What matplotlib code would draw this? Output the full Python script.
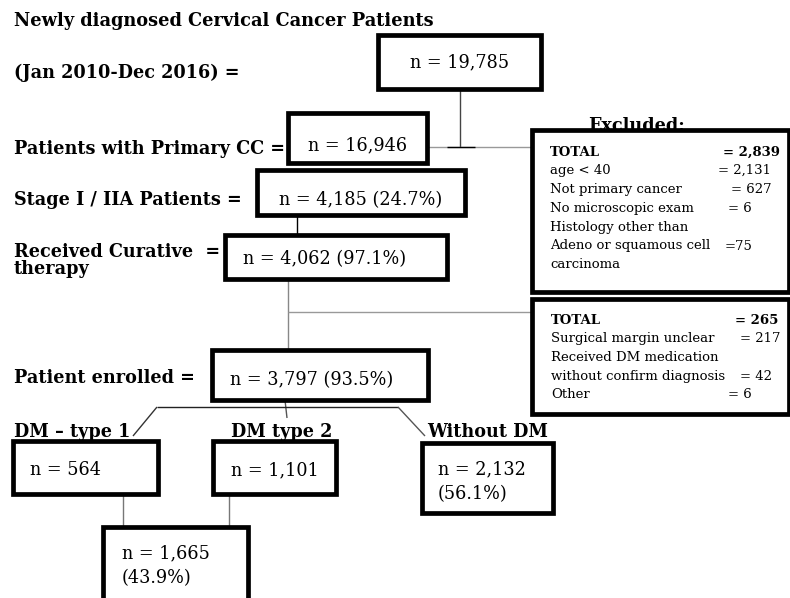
import matplotlib
matplotlib.use("Agg")
import matplotlib.pyplot as plt
from matplotlib.patches import Rectangle

# ---------------- data ----------------
step_labels = ["Newly diagnosed Cervical Cancer Patients\n(Jan 2010-Dec 2016) =",
               "Patients with Primary CC =",
               "Stage I / IIA Patients =",
               "Received Curative  =\ntherapy",
               "Patient enrolled ="]
step_counts = [19785, 16946, 4185, 4062, 3797]
step_pcts = [None, None, 24.7, 97.1, 93.5]

excl1_title = "Excluded:"
excl1_reasons = ["TOTAL", "age < 40", "Not primary cancer", "No microscopic exam",
                 "Histology other than\nAdeno or squamous cell\ncarcinoma"]
excl1_counts = [2839, 2131, 627, 6, 75]

excl2_reasons = ["TOTAL", "Surgical margin unclear", "Received DM medication\nwithout confirm diagnosis", "Other"]
excl2_counts = [265, 217, 42, 6]

group_labels = ["DM \u2013 type 1", "DM type 2", "Without DM"]
group_counts = [564, 1101, 2132]
group_pcts = [None, None, 56.1]
dm_total = 1665
dm_total_pct = 43.9

# ---------------- figure ----------------
fig = plt.figure(figsize=(7.9, 5.98), dpi=100)
ax = fig.add_axes([0, 0, 1, 1])
ax.set_xlim(0, 790)
ax.set_ylim(598, 0)
ax.axis("off")

FONT = "DejaVu Serif"
LBL = 12.7   # bold labels
BOX = 12.7   # box text
SM = 9.5     # exclusion text
BLW = 3.4    # box border width


def box(x0, y0, x1, y1):
    ax.add_patch(Rectangle((x0, y0), x1 - x0, y1 - y0, facecolor="white",
                           edgecolor="black", lw=BLW, joinstyle="miter", zorder=3))


def line(xs, ys, color="black", lw=1.0, z=1):
    ax.plot(xs, ys, color=color, lw=lw, solid_capstyle="butt", zorder=z)


def ntext(c, p=None, sep=" "):
    s = f"n = {c:,}"
    if p is not None:
        s += f"{sep}({p}%)"
    return s


def btxt(x, y, s, size=LBL, **kw):
    ax.text(x, y, s, fontsize=size, fontweight="bold", family=FONT, va="baseline",
            ha="left", zorder=5, **kw)


def ttxt(x, y, s, ha="left", size=BOX, **kw):
    ax.text(x, y, s, fontsize=size, family=FONT, va="baseline", ha=ha, zorder=5, **kw)


def stxt(x, y, s, bold=False):
    ax.text(x, y, s, fontsize=SM, family=FONT, fontweight="bold" if bold else "normal",
            va="baseline", ha="left", zorder=6)


# connectors
line([460, 460], [89, 147], color="#444")
line([423, 533], [147, 147], color="#999")
line([447, 475], [147, 147], color="black")
line([297, 297], [215, 235], color="black")
line([288, 288], [280, 350], color="#888")
line([288, 533], [312, 312], color="#999")
line([285, 287], [400, 418], color="#555")
line([157, 398], [407, 407], color="#222")
line([157, 133], [407, 436], color="#333")
line([398, 425], [407, 436], color="#555")
line([123, 123], [494, 527], color="#777")
line([229, 229], [494, 527], color="#777")

# left labels
title1, title2 = step_labels[0].split("\n")
btxt(14, 26, title1, size=12.8)
btxt(14, 78, title2)
btxt(14, 154, step_labels[1])
btxt(14, 205, step_labels[2])
r1, r2 = step_labels[3].split("\n")
btxt(14, 257, r1)
btxt(14, 274, r2)
btxt(14, 383, step_labels[4])

# main boxes
box(378, 35, 541, 89)
ttxt(459.5, 67, ntext(step_counts[0]), ha="center")
box(288, 113, 427, 163)
ttxt(357.5, 150, ntext(step_counts[1]), ha="center")
box(257, 170, 465, 215)
ttxt(361, 205, ntext(step_counts[2], step_pcts[2]), ha="center")
box(225, 235, 447, 279)
ttxt(243, 264, ntext(step_counts[3], step_pcts[3]))
box(212, 350, 428, 400)
ttxt(230, 385, ntext(step_counts[4], step_pcts[4]))

# group labels
btxt(14, 437, group_labels[0])
btxt(231, 437, group_labels[1])
btxt(427, 437, group_labels[2])

box(13, 441, 158, 494)
ttxt(30, 475, ntext(group_counts[0]))
box(213, 441, 336, 494)
ttxt(274.5, 475, ntext(group_counts[1]), ha="center")
box(422, 443, 553, 513)
ttxt(438, 474, ntext(group_counts[2]))
ttxt(438, 499, f"({group_pcts[2]}%)")
ax.add_patch(Rectangle((103, 527), 145, 90, facecolor="white", edgecolor="black",
                       lw=BLW, joinstyle="miter", zorder=3, clip_on=True))
ttxt(122, 558, ntext(dm_total))
ttxt(122, 583, f"({dm_total_pct}%)")

# exclusion box 1
box(532, 130, 789, 292)
ax.text(637, 131, excl1_title, fontsize=LBL, fontweight="bold", family=FONT,
        va="baseline", ha="center", zorder=6)
ys1 = [156, 174, 193, 212]
vx1 = [723, 718, 731, 728]
for i in range(4):
    stxt(550, ys1[i], excl1_reasons[i], bold=(i == 0))
    stxt(vx1[i], ys1[i], f"= {excl1_counts[i]:,}", bold=(i == 0))
for j, s in enumerate(excl1_reasons[4].split("\n")):
    stxt(550, 231 + 18.5 * j, s)
stxt(725, 249.5, f"={excl1_counts[4]}")

# exclusion box 2
box(532, 299, 789, 414)
ys2 = [324, 342, 361, 380, 398]
stxt(551, ys2[0], excl2_reasons[0], bold=True)
stxt(735, ys2[0], f"= {excl2_counts[0]}", bold=True)
stxt(551, ys2[1], excl2_reasons[1])
stxt(740, ys2[1], f"= {excl2_counts[1]}")
m1, m2 = excl2_reasons[2].split("\n")
stxt(551, ys2[2], m1)
stxt(551, ys2[3], m2)
stxt(740, ys2[3], f"= {excl2_counts[2]}")
stxt(551, ys2[4], excl2_reasons[3])
stxt(728, ys2[4], f"= {excl2_counts[3]}")

fig.savefig("out.png", dpi=100, facecolor="white")
